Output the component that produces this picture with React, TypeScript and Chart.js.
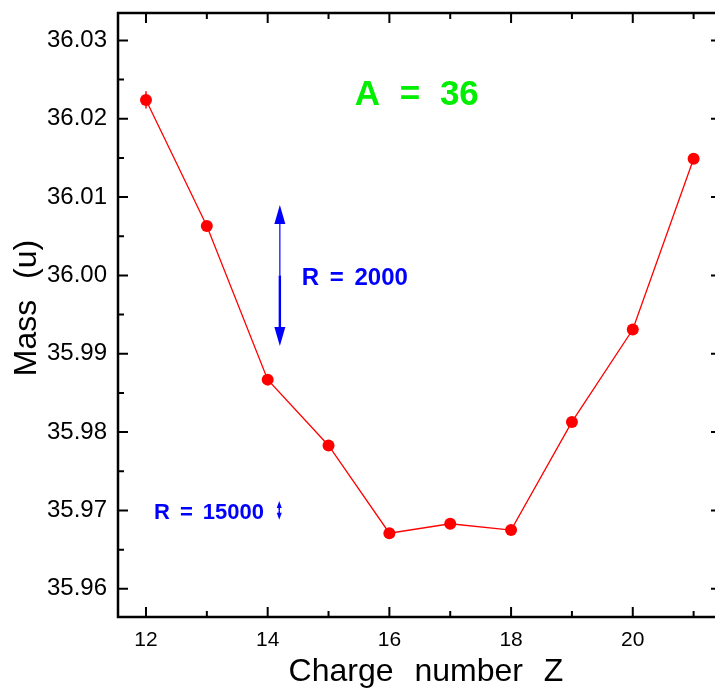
import React, { useEffect, useRef } from "react";
import { Chart, registerables } from "chart.js";

Chart.register(...registerables);

// ---- data ----
const chargeZ = [12, 13, 14, 15, 16, 17, 18, 19, 20, 21];
const massU = [36.0224, 36.0063, 35.9867, 35.9783, 35.9671, 35.9683, 35.9675, 35.9813, 35.9931, 36.0149];
const massErr = [0.0011, 0, 0, 0, 0, 0, 0, 0, 0, 0];
const yTickValues = [35.96, 35.97, 35.98, 35.99, 36.0, 36.01, 36.02, 36.03];
const yMinorValues = [35.965, 35.975, 35.985, 35.995, 36.005, 36.015, 36.025];
const xTickValues = [12, 14, 16, 18, 20];
const xMinorValues = [13, 15, 17, 19, 21];
const massNumber = 36;
const resolutions = [2000, 15000];
const arrowZ = [14.2, 14.19];
const arrowCenter = [36.0, 35.97];
const resLabelZ = [14.56, 12.13];
const resLabelMass = [35.9988, 35.9689];
const titleLabelZ = 16.45;
const titleLabelMass = 36.0218;

const decoPlugin = {
  id: "deco",
  afterDatasetsDraw(chart: any) {
    const { ctx, chartArea: a, scales } = chart;
    const xs = scales.x;
    const ys = scales.y;
    ctx.save();
    // error bars
    ctx.strokeStyle = "#ff0000";
    ctx.lineWidth = 1.5;
    chargeZ.forEach((z, i) => {
      if (!massErr[i]) return;
      const px = xs.getPixelForValue(z);
      ctx.beginPath();
      ctx.moveTo(px, ys.getPixelForValue(massU[i] + massErr[i]));
      ctx.lineTo(px, ys.getPixelForValue(massU[i] - massErr[i]));
      ctx.stroke();
    });
    // frame
    ctx.strokeStyle = "#000";
    ctx.lineWidth = 2.5;
    ctx.strokeRect(a.left, a.top, a.right - a.left, a.bottom - a.top);
    // ticks
    ctx.lineWidth = 2;
    const ytick = (v: number, len: number) => {
      const py = ys.getPixelForValue(v);
      ctx.beginPath();
      ctx.moveTo(a.left, py);
      ctx.lineTo(a.left + len, py);
      ctx.moveTo(a.right, py);
      ctx.lineTo(a.right - len, py);
      ctx.stroke();
    };
    const xtick = (v: number, len: number) => {
      const px = xs.getPixelForValue(v);
      ctx.beginPath();
      ctx.moveTo(px, a.bottom);
      ctx.lineTo(px, a.bottom - len);
      ctx.moveTo(px, a.top);
      ctx.lineTo(px, a.top + len);
      ctx.stroke();
    };
    yTickValues.forEach((v) => ytick(v, 10));
    yMinorValues.forEach((v) => ytick(v, 6));
    xTickValues.forEach((v) => xtick(v, 10));
    xMinorValues.forEach((v) => xtick(v, 6));

    // resolution arrows
    const drawHead = (px: number, tipY: number, dir: number, w: number, h: number) => {
      ctx.beginPath();
      ctx.moveTo(px, tipY);
      ctx.lineTo(px - w / 2, tipY + dir * h);
      ctx.lineTo(px + w / 2, tipY + dir * h);
      ctx.closePath();
      ctx.fill();
    };
    ctx.fillStyle = "#0000ff";
    ctx.strokeStyle = "#0000ff";
    resolutions.forEach((r, i) => {
      const half = massNumber / r / 2;
      const px = xs.getPixelForValue(arrowZ[i]);
      const pc = ys.getPixelForValue(arrowCenter[i]);
      const pt = ys.getPixelForValue(arrowCenter[i] + half);
      const pb = ys.getPixelForValue(arrowCenter[i] - half);
      const big = i === 0;
      const hw = big ? 11 : 5;
      const hh = big ? 19 : 7;
      ctx.lineWidth = big ? 1.2 : 1.5;
      ctx.beginPath();
      ctx.moveTo(px, pt + hh - 1);
      ctx.lineTo(px, pc);
      ctx.stroke();
      ctx.lineWidth = big ? 2.4 : 1.5;
      ctx.beginPath();
      ctx.moveTo(px, pc);
      ctx.lineTo(px, pb - hh + 1);
      ctx.stroke();
      drawHead(px, pt, 1, hw, hh);
      drawHead(px, pb, -1, hw, hh);
    });

    // labels
    const c: any = ctx;
    ctx.textBaseline = "alphabetic";
    ctx.textAlign = "left";
    ctx.fillStyle = "#0000ff";
    resolutions.forEach((r, i) => {
      ctx.font = i === 0 ? "bold 24px 'Liberation Sans'" : "bold 22px 'Liberation Sans'";
      c.wordSpacing = "4px";
      ctx.fillText(`R = ${r}`, xs.getPixelForValue(resLabelZ[i]), ys.getPixelForValue(resLabelMass[i]));
    });
    ctx.fillStyle = "#00ee00";
    ctx.font = "bold 35px 'Liberation Sans'";
    c.wordSpacing = "10px";
    ctx.textAlign = "center";
    ctx.fillText(`A = ${massNumber}`, xs.getPixelForValue(titleLabelZ), ys.getPixelForValue(titleLabelMass));

    // axis titles
    ctx.fillStyle = "#000";
    ctx.font = "32px 'Liberation Sans'";
    c.wordSpacing = "12px";
    ctx.textAlign = "center";
    ctx.fillText("Charge number Z", 426, 681);
    ctx.translate(36, 308);
    ctx.rotate(-Math.PI / 2);
    ctx.fillText("Mass (u)", 0, 0);
    ctx.restore();
  },
};

export default function App() {
  const ref = useRef<HTMLCanvasElement | null>(null);
  useEffect(() => {
    document.body.style.margin = "0";
    document.body.style.overflow = "hidden";
    const canvas = ref.current!;
    const chart = new Chart(canvas, {
      type: "line",
      data: {
        datasets: [
          {
            data: chargeZ.map((z, i) => ({ x: z, y: massU[i] })),
            borderColor: "#ff0000",
            backgroundColor: "#ff0000",
            borderWidth: 1.3,
            pointRadius: 6,
            pointBorderWidth: 0,
            pointBackgroundColor: "#ff0000",
            tension: 0,
          },
        ],
      },
      options: {
        responsive: false,
        animation: false,
        devicePixelRatio: 1,
        layout: { padding: { left: 0, top: 13, right: 19, bottom: 0 } },
        plugins: { legend: { display: false }, tooltip: { enabled: false } },
        scales: {
          x: {
            type: "linear",
            min: 11.54,
            max: 21.45,
            grid: { display: false, drawTicks: false },
            border: { display: false },
            afterBuildTicks: (s: any) => {
              s.ticks = xTickValues.map((v) => ({ value: v }));
            },
            afterFit: (s: any) => {
              s.height = 76;
              s.paddingLeft = 0;
              s.paddingRight = 0;
              s.paddingTop = 0;
              s.paddingBottom = 0;
            },
            ticks: {
              color: "#000",
              font: { family: "'Liberation Sans'", size: 21 },
              padding: 11,
              maxRotation: 0,
              callback: (v: any) => String(v),
            },
          },
          y: {
            type: "linear",
            min: 35.9564,
            max: 36.0335,
            grid: { display: false, drawTicks: false },
            border: { display: false },
            afterBuildTicks: (s: any) => {
              s.ticks = yTickValues.map((v) => ({ value: v }));
            },
            afterFit: (s: any) => {
              s.width = 118;
              s.paddingLeft = 0;
              s.paddingRight = 0;
              s.paddingTop = 0;
              s.paddingBottom = 0;
            },
            ticks: {
              color: "#000",
              font: { family: "'Liberation Sans'", size: 24 },
              padding: 11,
              callback: (v: any) => Number(v).toFixed(2),
            },
          },
        },
      },
      plugins: [decoPlugin],
    });
    return () => chart.destroy();
  }, []);
  return (
    <div style={{ width: 715, height: 693, overflow: "hidden", position: "relative", background: "#fff" }}>
      <canvas ref={ref} width={740} height={693} style={{ display: "block" }} />
    </div>
  );
}
